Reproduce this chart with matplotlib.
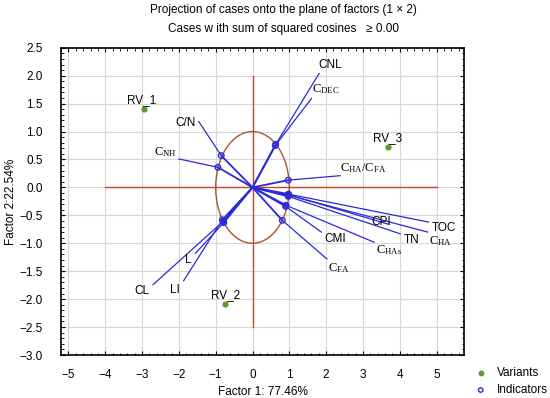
import matplotlib
matplotlib.use("Agg")
import matplotlib.pyplot as plt
from matplotlib.patches import Ellipse
from matplotlib.ticker import MultipleLocator

plt.rcParams["font.family"] = ["Liberation Sans", "DejaVu Sans"]
plt.rcParams["mathtext.fontset"] = "custom"
plt.rcParams["mathtext.rm"] = "Liberation Serif"
plt.rcParams["mathtext.it"] = "Liberation Serif:italic"

# cases (variants)
case_names = ["RV_1", "RV_2", "RV_3"]
case_x = [-2.96, -0.74, 3.67]
case_y = [1.41, -2.08, 0.73]
case_label_x = [-3.0, -0.73, 3.66]
case_label_y = [1.57, -1.93, 0.88]

# indicators: loading (on circle), end of label line, label position
ind_names = ["CNL", r"C$_{\rm DEC}$", "C/N", r"C$_{\rm NH}$", r"C$_{\rm HA}$/C$_{\rm FA}$",
             "TOC", r"C$_{\rm HA}$", "TN", "CPI", r"C$_{\rm HAs}$", "CMI", r"C$_{\rm FA}$",
             "CL", "L", "LI"]
load_x = [0.63, 0.62, -0.85, -0.94, 0.97, 0.98, 0.98, 0.97, 0.97, 0.91, 0.90, 0.81, -0.80, -0.78, -0.82]
load_y = [0.77, 0.75, 0.57, 0.36, 0.13, -0.12, -0.14, -0.16, -0.13, -0.32, -0.34, -0.59, -0.61, -0.63, -0.58]
end_x = [1.81, 1.60, -1.46, -2.00, 2.38, 4.78, 4.76, 4.01, 3.70, 3.30, 1.87, 2.02, -2.70, -1.55, -1.87]
end_y = [2.04, 1.59, 1.18, 0.51, 0.21, -0.62, -0.80, -0.83, -0.66, -0.98, -0.80, -1.28, -1.74, -1.18, -1.67]
lab_x = [2.12, 1.98, -1.82, -2.37, 3.01, 5.20, 5.12, 4.33, 3.50, 3.70, 2.24, 2.35, -3.00, -1.75, -2.10]
lab_y = [2.19, 1.76, 1.15, 0.64, 0.34, -0.73, -0.96, -0.95, -0.62, -1.13, -0.92, -1.44, -1.86, -1.30, -1.83]
serif_labels = [False, True, False, True, True, False, True, False, False, True, False, True, False, False, False]

xticks = [-5, -4, -3, -2, -1, 0, 1, 2, 3, 4, 5]
yticks = [2.5, 2.0, 1.5, 1.0, 0.5, 0.0, -0.5, -1.0, -1.5, -2.0, -2.5, -3.0]

blue = "#2a2ad8"
red = "#c24a2a"

fig = plt.figure(figsize=(5.5, 3.98), dpi=100)
ax = fig.add_axes([0.111, 0.108, 0.733, 0.772])
ax.set_xlim(-5.2, 5.75)
ax.set_ylim(-3.0, 2.5)
ax.set_xticks(xticks)
ax.set_yticks(yticks)
ax.set_xticklabels([f"{t}".replace("-", "\u2212") for t in xticks])
ax.set_yticklabels([f"{t:.1f}".replace("-", "\u2212") for t in yticks])
ax.xaxis.set_minor_locator(MultipleLocator(0.2))
ax.yaxis.set_minor_locator(MultipleLocator(0.1))
ax.tick_params(which="both", direction="in", top=True, right=True, labelsize=8.5, color="black")
ax.tick_params(which="major", length=3)
ax.tick_params(axis="x", which="major", pad=10)
ax.tick_params(axis="y", which="major", pad=13)
ax.tick_params(which="minor", length=1.8)
ax.grid(True, color="#d8d8d8", linewidth=0.8)
ax.set_axisbelow(True)
for s in ax.spines.values():
    s.set_linewidth(1.2)

ax.plot([-4, 5], [0, 0], color=red, lw=1.0, zorder=2)
ax.plot([0, 0], [-2.5, 2.0], color=red, lw=1.0, zorder=2)
ax.add_patch(Ellipse((0, 0), 2, 2, fill=False, edgecolor="#a85530", lw=1.0, zorder=2))

for lx, ly, ex, ey in zip(load_x, load_y, end_x, end_y):
    ax.plot([0, lx], [0, ly], color=blue, lw=1.3, zorder=3)
    ax.plot([lx, ex], [ly, ey], color=blue, lw=0.9, zorder=3)
ax.scatter(load_x, load_y, s=16, facecolors="none", edgecolors=blue, linewidths=1.0, zorder=4)
ax.scatter(case_x, case_y, s=12, color="#5b9a2c", zorder=4)

for name, x, y, serif in zip(ind_names, lab_x, lab_y, serif_labels):
    if serif:
        ax.text(x, y, name, ha="center", va="center", fontsize=9, family="Liberation Serif", zorder=5)
    else:
        ax.text(x, y, name, ha="center", va="center", fontsize=8.5, zorder=5)
for name, x, y in zip(case_names, case_label_x, case_label_y):
    ax.text(x, y, name, ha="center", va="center", fontsize=8.5, zorder=5)

ax.set_xlabel("Factor 1: 77.46%", fontsize=8.5, labelpad=4)
ax.set_ylabel("Factor 2:22.54%", fontsize=8.5, labelpad=2)
fig.text(0.516, 0.976, "Projection of cases onto the plane of factors (1 \u00d7 2)", ha="center", va="center", fontsize=8.5)
fig.text(0.516, 0.928, "Cases w ith sum of squared cosines   \u2265 0.00", ha="center", va="center", fontsize=8.5)

# legend outside, bottom right
lax = fig.add_axes([0, 0, 1, 1], facecolor="none")
lax.set_xlim(0, 1)
lax.set_ylim(0, 1)
lax.axis("off")
lax.scatter([0.874], [0.062], s=10, color="#5b9a2c")
lax.scatter([0.874], [0.020], s=10, facecolors="none", edgecolors=blue, linewidths=1.0)
lax.text(0.903, 0.062, "Variants", fontsize=8.5, ha="left", va="center")
lax.text(0.903, 0.020, "Indicators", fontsize=8.5, ha="left", va="center")

fig.savefig("out.png", dpi=100)
